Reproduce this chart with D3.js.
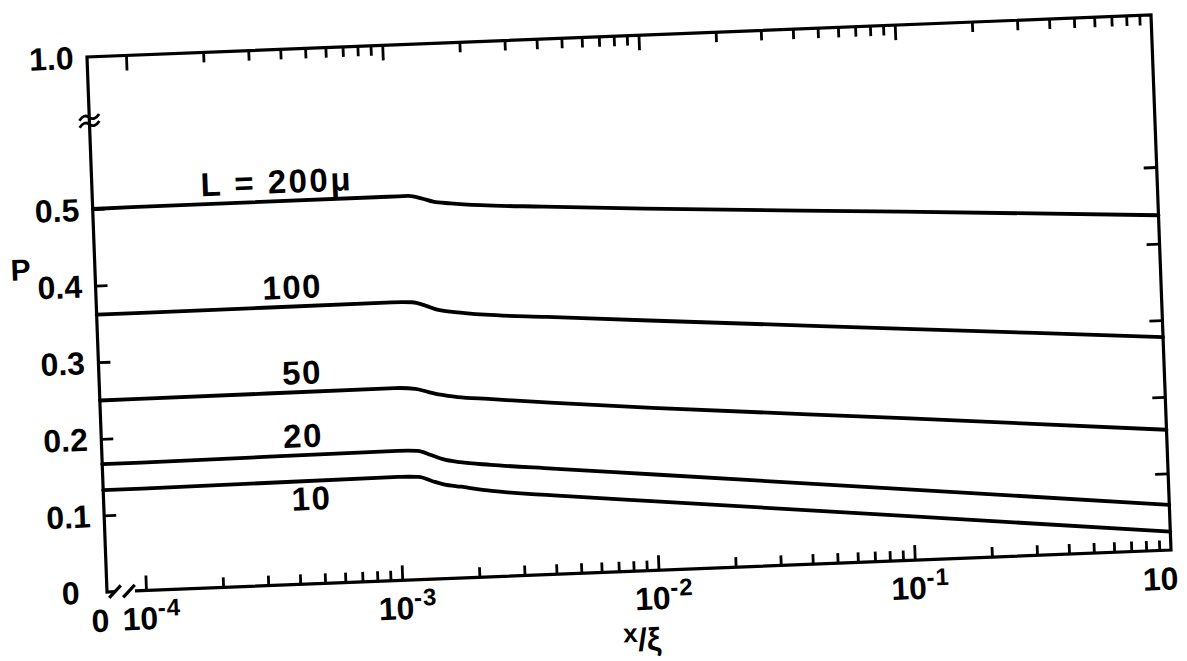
<!DOCTYPE html>
<html>
<head>
<meta charset="utf-8">
<script src="https://cdn.jsdelivr.net/npm/d3@7"></script>
<style>
  html, body { margin: 0; padding: 0; background: #fff; }
  svg { display: block; }
  text { font-family: "Liberation Sans", Arial, sans-serif; font-weight: bold; fill: #000; }
</style>
</head>
<body>
<svg id="chart" width="1187" height="661"></svg>
<script>
// ---- data ----------------------------------------------------------------
// x/ξ sample points shared by all curves (0 sits at the broken origin)
const xValues = [0, 1e-4, 1e-3, 1.2e-3, 1.35e-3, 1.5e-3, 1.75e-3, 2.3e-3, 4e-3, 1e-2, 0.1, 1];

// P for each slab thickness L (μ)
const seriesLabels = ["L = 200μ", "100", "50", "20", "10"];
const pL200 = [0.500, 0.501, 0.502, 0.502, 0.497, 0.492, 0.489, 0.485, 0.480, 0.472, 0.455, 0.437];
const pL100 = [0.362, 0.362, 0.363, 0.362, 0.357, 0.351, 0.347, 0.342, 0.336, 0.326, 0.302, 0.278];
const pL50  = [0.250, 0.250, 0.251, 0.249, 0.244, 0.240, 0.236, 0.232, 0.224, 0.212, 0.185, 0.157];
const pL20  = [0.167, 0.167, 0.169, 0.168, 0.162, 0.156, 0.151, 0.146, 0.138, 0.125, 0.092, 0.059];
const pL10  = [0.133, 0.133, 0.135, 0.134, 0.128, 0.123, 0.119, 0.112, 0.103, 0.090, 0.057, 0.024];

// axis ticks
const yTickValues = [0, 0.1, 0.2, 0.3, 0.4, 0.5, 1.0];
const yTickLabels = ["0", "0.1", "0.2", "0.3", "0.4", "0.5", "1.0"];
const yInnerTicks = [0.1, 0.2, 0.3, 0.4, 0.5];
const xTickValues = [0, 1e-4, 1e-3, 1e-2, 1e-1, 1];
const xTickBase = ["0", "10", "10", "10", "10", "10"];
const xTickExp = ["", "-4", "-3", "-2", "-1", ""];
const xMajorTicks = [1e-4, 1e-3, 1e-2, 1e-1];
const xMinorMantissas = [2, 3, 4, 5, 6, 7, 8, 9];

// ---- layout ----------------------------------------------------------------
const W = 1065, H = 535;          // plot frame, in frame units
const yHalf = 152;                // frame position of P = 0.5 (axis is broken above it)
const xStart = 39;                // frame position of 10^-4 after the break at 0

// the drawing sits slightly skewed on the page: frame corners
const TL = [87, 57], TR = [1151, 15], BL = [107, 592];
const A = (TR[0] - TL[0]) / W, B = (TR[1] - TL[1]) / W;
const C = (BL[0] - TL[0]) / H, D = (BL[1] - TL[1]) / H;
const warp = (x, y) => [A * x + C * y + TL[0], B * x + D * y + TL[1]];
const angle = Math.atan2(B, A) * 180 / Math.PI;

const xLog = d3.scaleLog().domain([1e-4, 1]).range([xStart, W]);
const xPos = v => (v <= 0 ? 0 : xLog(v));
const yScale = d3.scaleLinear().domain([0, 0.5, 1.0]).range([H, yHalf, 0]);

const svg = d3.select("#chart");
const frame = svg.append("g")
  .attr("transform", `matrix(${A},${B},${C},${D},${TL[0]},${TL[1]})`);

// ---- frame with broken bottom-left ----------------------------------------
frame.append("path")
  .attr("d", `M8,${H} L0,${H} L0,0 L${W},0 L${W},${H} L28,${H}`)
  .attr("fill", "none").attr("stroke", "#000").attr("stroke-width", 3.2)
  .attr("stroke-linejoin", "miter");

// break marks on the x axis
[8, 22].forEach(bx => {
  frame.append("path")
    .attr("d", `M${bx - 6},${H + 6} L${bx + 6},${H - 6}`)
    .attr("stroke", "#000").attr("stroke-width", 3.2).attr("fill", "none");
});

// break mark on the y axis
const yb = yScale(0.79);
[-3.5, 3.5].forEach(k => {
  frame.append("path")
    .attr("d", `M-10,${yb + k + 3} q5,-7 10,-3 t10,-3`)
    .attr("stroke", "#000").attr("stroke-width", 2.8).attr("fill", "none");
});

// ---- ticks through d3 axes ------------------------------------------------
const minorTicks = [];
xMajorTicks.forEach(dec => xMinorMantissas.forEach(m => minorTicks.push(m * dec)));

function styleAxis(g) {
  g.select(".domain").remove();
  g.selectAll(".tick line").attr("stroke", "#000").attr("stroke-width", 2.8);
  g.selectAll(".tick text").remove();
}

// top edge: ticks pointing down into the frame
frame.append("g").call(d3.axisBottom(xLog).tickValues(minorTicks).tickSize(10).tickFormat("")).call(styleAxis);
frame.append("g").call(d3.axisBottom(xLog).tickValues(xMajorTicks).tickSize(15).tickFormat("")).call(styleAxis);
// bottom edge: ticks pointing up
frame.append("g").attr("transform", `translate(0,${H})`)
  .call(d3.axisTop(xLog).tickValues(minorTicks).tickSize(10).tickFormat("")).call(styleAxis);
frame.append("g").attr("transform", `translate(0,${H})`)
  .call(d3.axisTop(xLog).tickValues(xMajorTicks).tickSize(15).tickFormat("")).call(styleAxis);
// left and right edges
frame.append("g").call(d3.axisRight(yScale).tickValues(yInnerTicks).tickSize(12).tickFormat("")).call(styleAxis);
frame.append("g").attr("transform", `translate(${W},0)`)
  .call(d3.axisLeft(yScale).tickValues(yInnerTicks).tickSize(13).tickFormat("")).call(styleAxis);

// ---- curves ---------------------------------------------------------------
const seriesValues = [pL200, pL100, pL50, pL20, pL10];
const line = d3.line()
  .x(d => xPos(d[0]))
  .y(d => yScale(d[1]))
  .curve(d3.curveMonotoneX);

seriesValues.forEach(vals => {
  frame.append("path")
    .attr("d", line(xValues.map((x, i) => [x, vals[i]])))
    .attr("fill", "none").attr("stroke", "#000")
    .attr("stroke-width", 3.8).attr("stroke-linejoin", "round").attr("stroke-linecap", "round");
});

// ---- text -----------------------------------------------------------------
function placeText(px, py, str, size, anchor) {
  return svg.append("text")
    .attr("x", px).attr("y", py)
    .attr("font-size", size)
    .attr("text-anchor", anchor)
    .attr("transform", `rotate(${angle},${px},${py})`)
    .text(str);
}

// y tick labels
yTickValues.forEach((v, i) => {
  const [sx, sy] = warp(0, yScale(v));
  const off = v === 0 ? -27 : -13;
  placeText(sx + off, sy + 12, yTickLabels[i], 32, "end");
});

// x tick labels (powers of ten with superscript exponent)
xTickValues.forEach((v, i) => {
  const [sx, sy] = warp(xPos(v), H);
  if (xTickExp[i] === "") {
    placeText(sx - 6 - (v === 0 ? 0 : 4), sy + 40, xTickBase[i], 32, "middle");
  } else {
    const t = placeText(sx - 23, sy + 40, "", 32, "start");
    t.append("tspan").text(xTickBase[i]);
    t.append("tspan").attr("font-size", 24).attr("dy", -13).attr("letter-spacing", 1).text(xTickExp[i]);
  }
});

// axis titles
{
  const [sx, sy] = warp(0, yScale(0.42));
  placeText(sx - 74, sy + 10, "P", 30, "middle");
}
{
  const [sx, sy] = warp(xLog(9e-3), H);
  const t = placeText(sx - 4, sy + 80, "", 32, "middle");
  t.append("tspan").attr("font-size", 26).attr("dy", -9).text("x");
  t.append("tspan").attr("dy", 9).text("/ξ");
}

// curve labels: set just above each curve (the lowest one below it)
const labelX = [3.7e-4, 4.1e-4, 4.35e-4, 4.3e-4, 4.6e-4];
seriesValues.forEach((vals, i) => {
  const xl = labelX[i];
  const t = Math.log10(xl / xValues[1]) / Math.log10(xValues[2] / xValues[1]);
  const p = d3.interpolateNumber(vals[1], vals[2])(t);
  const [sx, sy] = warp(xPos(xl), yScale(p));
  const dy = i === seriesValues.length - 1 ? 29 : -8;
  placeText(sx, sy + dy, seriesLabels[i], 33, "middle").attr("letter-spacing", i === 0 ? 2.5 : 1.5);
});
</script>
</body>
</html>
